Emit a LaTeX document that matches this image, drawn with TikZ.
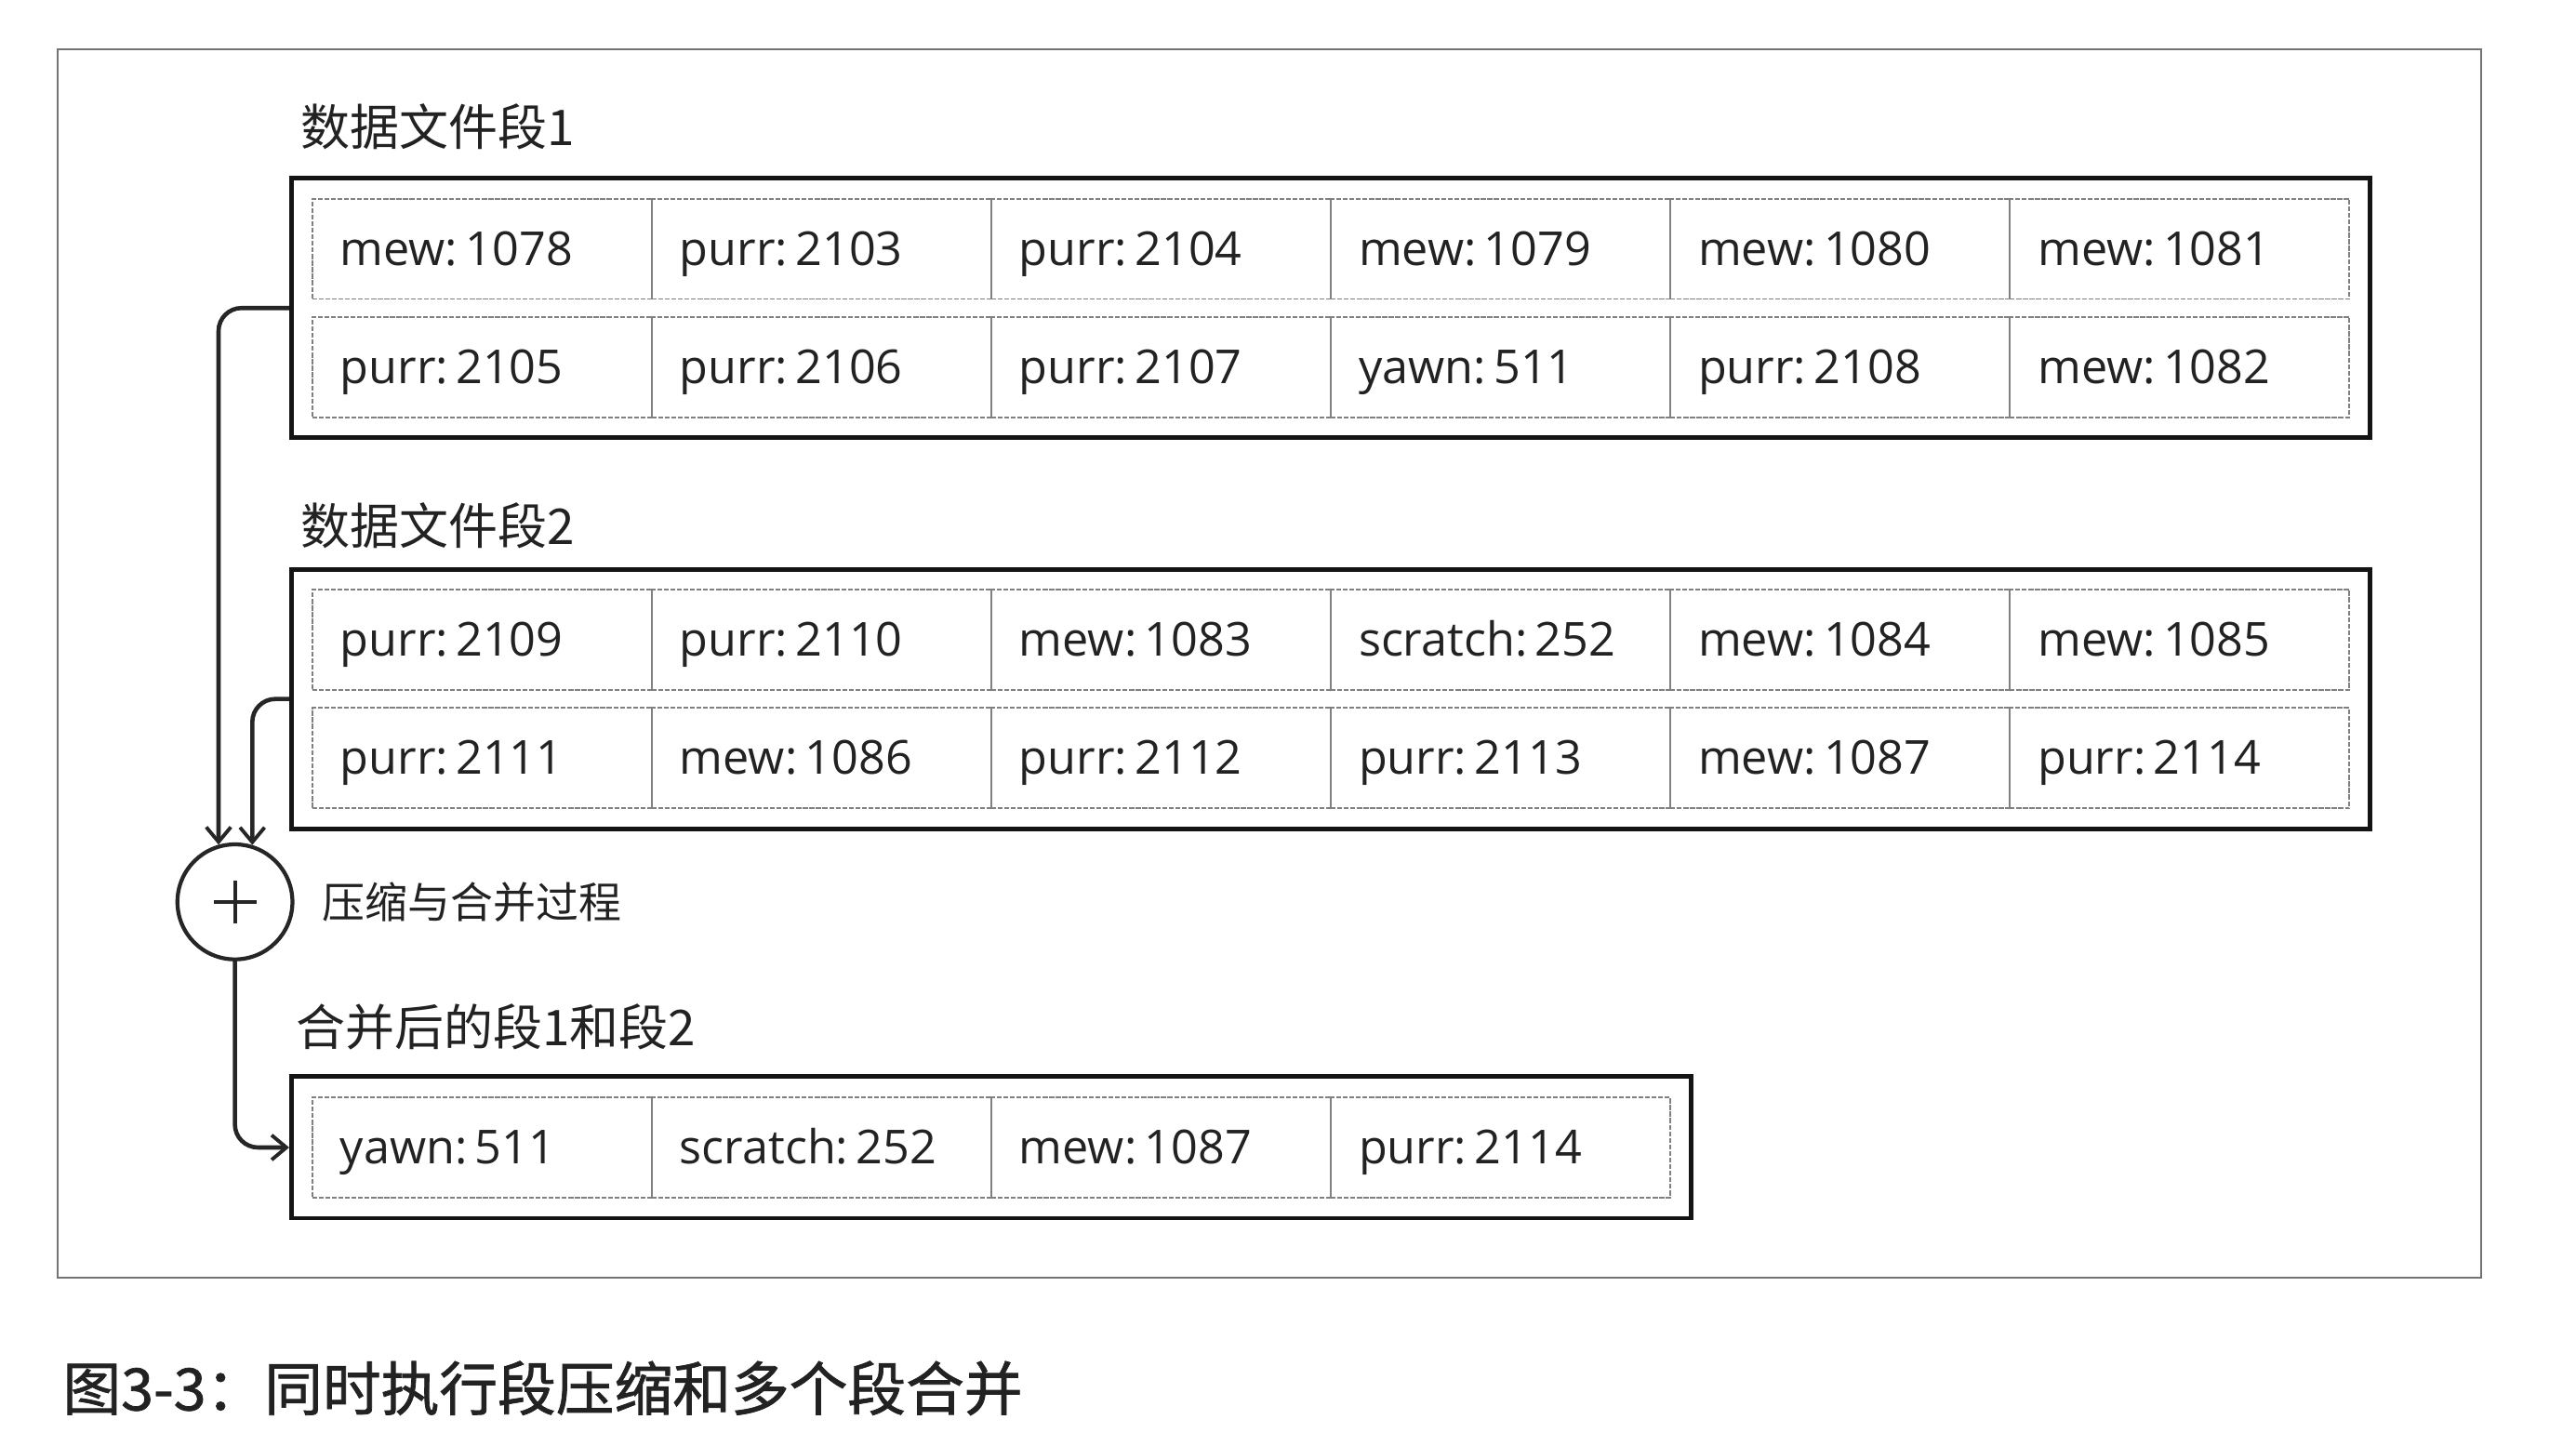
\documentclass[tikz,border=0pt]{standalone}
\usepackage{fontspec}
\setmainfont{Open Sans}
\newfontfamily\cjk{Noto Sans CJK SC}
\newfontfamily\cjkcap[FakeBold=1.2]{Noto Sans CJK SC}
\usetikzlibrary{arrows.meta,fit}
\definecolor{ink}{HTML}{222222}
\begin{document}
\begin{tikzpicture}[x=1pt,y=-1pt,
  frame/.style={draw=black!55, line width=1.2pt},
  segbox/.style={draw=black!92, line width=2.8pt, inner sep=12pt, rectangle},
  cell/.style={draw=black!50, line width=1.1pt, dash pattern=on 3pt off 1pt,
    minimum height=61pt, inner xsep=17pt, inner ysep=0pt,
    text width=172.67pt, align=left, text height=24pt, text depth=4pt,
    font=\fontsize{28.5}{31}\selectfont, text=ink},
  title/.style={anchor=west, inner sep=0pt, font=\cjk\fontsize{30}{34}\selectfont, text=ink},
  conn/.style={draw=black!85, line width=2.6pt, rounded corners=14pt,
    -{Straight Barb[length=9pt,width=15pt,line width=2.2pt]}},
]
\useasboundingbox (0,0) rectangle (1568,880);
\draw[frame] (35,30) rectangle (1510,778);

% titles
\node[title] (t1) at (183,77) {数据文件段1};
\node[title] (t2) at (183,320) {数据文件段2};
\node[title] (t3) at (180,625) {合并后的段1和段2};

% segment 1
\foreach \txt [count=\i] in {mew:\,1078,purr:\,2103,purr:\,2104,mew:\,1079,mew:\,1080,mew:\,1081}
  \node[cell] (a1\i) at ({190+206.67*(\i-0.5)},151.5) {\txt};
\foreach \txt [count=\i] in {purr:\,2105,purr:\,2106,purr:\,2107,yawn:\,511,purr:\,2108,mew:\,1082}
  \node[cell] (a2\i) at ({190+206.67*(\i-0.5)},223.5) {\txt};
\node[segbox, fit=(a11)(a26)] (seg1) {};

% segment 2
\foreach \txt [count=\i] in {purr:\,2109,purr:\,2110,mew:\,1083,scratch:\,252,mew:\,1084,mew:\,1085}
  \node[cell] (b1\i) at ({190+206.67*(\i-0.5)},389.5) {\txt};
\foreach \txt [count=\i] in {purr:\,2111,mew:\,1086,purr:\,2112,purr:\,2113,mew:\,1087,purr:\,2114}
  \node[cell] (b2\i) at ({190+206.67*(\i-0.5)},461.5) {\txt};
\node[segbox, fit=(b11)(b26)] (seg2) {};

% merged segment
\foreach \txt [count=\i] in {yawn:\,511,scratch:\,252,mew:\,1087,purr:\,2114}
  \node[cell] (c1\i) at ({190+206.67*(\i-0.5)},698.5) {\txt};
\node[segbox, fit=(c11)(c14)] (seg3) {};

% merge process
\node[circle, draw=black!85, line width=2.4pt, minimum size=70pt, inner sep=0pt] (merge) at (143,549) {};
\draw[black!85, line width=2.4pt] ([xshift=-13pt]merge.center) -- ([xshift=13pt]merge.center)
  ([yshift=-13pt]merge.center) -- ([yshift=13pt]merge.center);
\node[anchor=west, inner sep=0pt, font=\cjk\fontsize{26}{30}\selectfont, text=ink]
  (mlabel) at (196,549) {压缩与合并过程};

% connectors
\draw[conn] (seg1.west) -| (merge.106.6);
\draw[conn] (seg2.west) -| (merge.73.4);
\draw[conn] (merge.south) |- (seg3.west);

% caption
\node[anchor=west, inner sep=0pt, font=\cjkcap\fontsize{35.5}{40}\selectfont, text=ink]
  (caption) at (38,845) {图3-3：同时执行段压缩和多个段合并};
\end{tikzpicture}
\end{document}
